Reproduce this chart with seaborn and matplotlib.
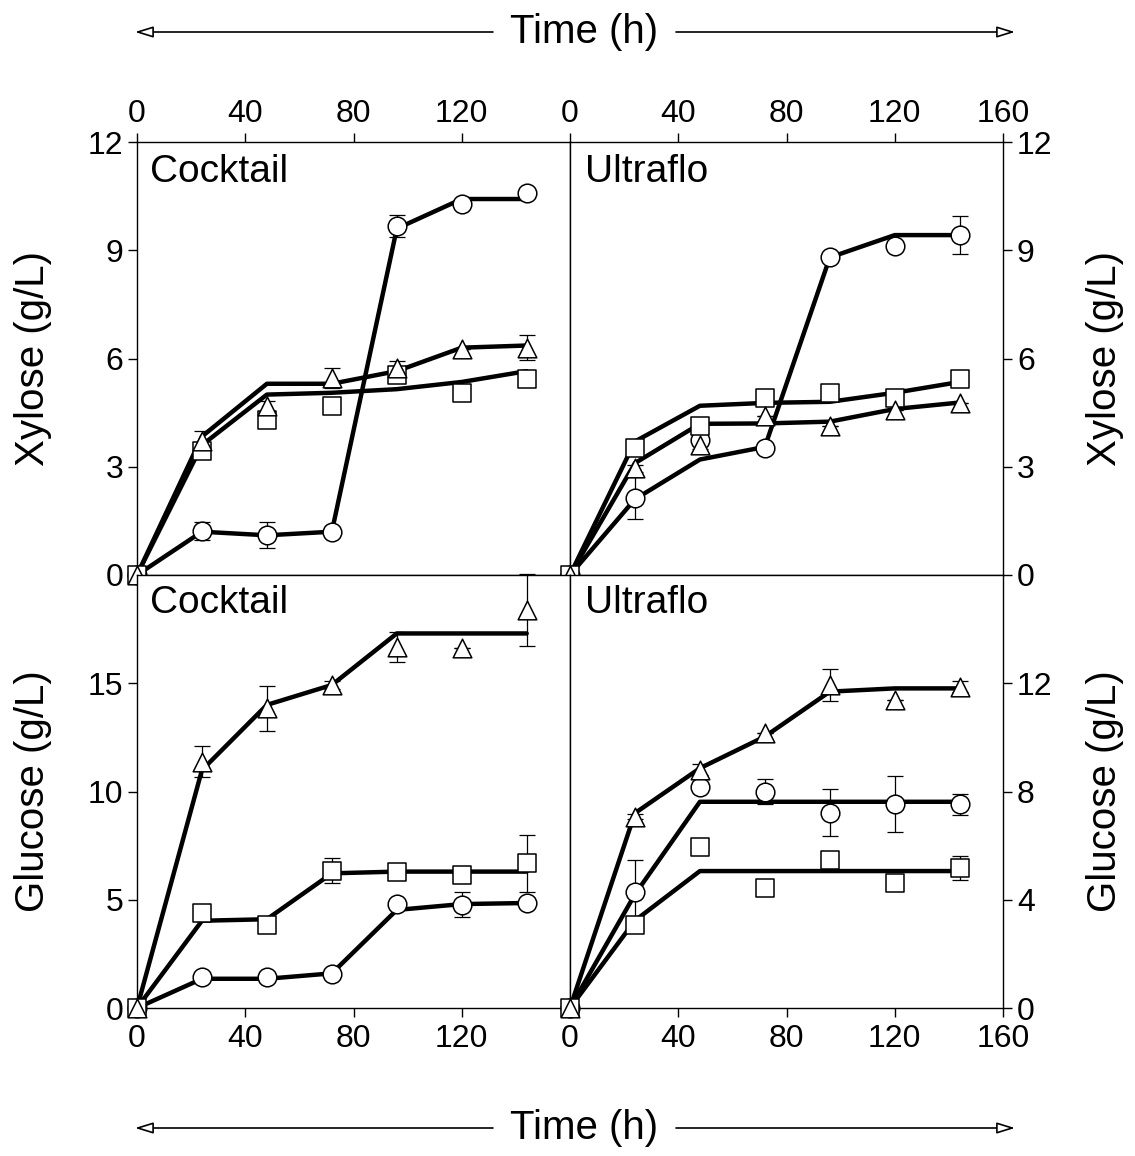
import matplotlib
matplotlib.use("Agg")
import matplotlib.pyplot as plt
import seaborn as sns

sns.set_style("ticks")
plt.rcParams['font.family'] = ['Liberation Sans', 'DejaVu Sans']
plt.rcParams['text.color'] = 'black'
plt.rcParams['axes.labelcolor'] = 'black'

# sampling times (h)
times = [0, 24, 48, 72, 96, 120, 144]

# --- Xylose, Cocktail (g/L) ---
xc_circ = [0, 1.22, 1.11, 1.2, 9.68, 10.28, 10.6]
xc_circ_err = [0, 0.26, 0.37, 0, 0.3, 0, 0]
xc_circ_fit = [0, 1.2, 1.1, 1.2, 9.6, 10.42, 10.42]
xc_sq = [0, 3.43, 4.3, 4.68, 5.55, 5.05, 5.42]
xc_sq_err = [0, 0.1, 0.15, 0, 0, 0, 0]
xc_sq_fit = [0, 3.6, 5.0, 5.05, 5.15, 5.35, 5.65]
xc_tri = [0, 3.7, 4.67, 5.47, 5.75, 6.25, 6.3]
xc_tri_err = [0, 0.28, 0.15, 0.28, 0.18, 0, 0.35]
xc_tri_fit = [0, 3.84, 5.3, 5.3, 5.65, 6.3, 6.36]

# --- Xylose, Ultraflo (g/L) ---
xu_circ = [0, 2.13, 3.75, 3.52, 8.8, 9.12, 9.42]
xu_circ_err = [0, 0.58, 0.15, 0, 0, 0, 0.53]
xu_circ_fit = [0, 2.1, 3.2, 3.55, 8.8, 9.42, 9.42]
xu_sq = [0, 3.52, 4.14, 4.9, 5.05, 4.9, 5.42]
xu_sq_err = [0, 0, 0, 0, 0, 0, 0]
xu_sq_fit = [0, 3.7, 4.69, 4.77, 4.8, 5.05, 5.35]
xu_tri = [0, 2.96, 3.6, 4.4, 4.12, 4.58, 4.77]
xu_tri_err = [0, 0.1, 0.1, 0, 0, 0, 0]
xu_tri_fit = [0, 3.1, 4.19, 4.2, 4.25, 4.6, 4.78]

# --- Glucose, Cocktail (g/L) ---
gc_circ = [0, 1.42, 1.42, 1.57, 4.79, 4.78, 4.84]
gc_circ_err = [0, 0, 0, 0, 0.15, 0.58, 0]
gc_circ_fit = [0, 1.35, 1.35, 1.6, 4.53, 4.8, 4.85]
gc_sq = [0, 4.37, 3.83, 6.34, 6.3, 6.14, 6.68]
gc_sq_err = [0, 0, 0, 0.58, 0, 0, 1.3]
gc_sq_fit = [0, 4.03, 4.1, 6.22, 6.3, 6.3, 6.3]
gc_tri = [0, 11.38, 13.84, 14.92, 16.69, 16.61, 18.38]
gc_tri_err = [0, 0.72, 1.05, 0.2, 0.7, 0, 1.67]
gc_tri_fit = [0, 10.99, 14.0, 14.92, 17.3, 17.3, 17.3]

# --- Glucose, Ultraflo (g/L) ---
gu_circ = [0, 4.3, 8.16, 8.0, 7.22, 7.53, 7.53]
gu_circ_err = [0, 1.17, 0, 0.47, 0.86, 1.03, 0.38]
gu_circ_fit = [0, 4.2, 7.62, 7.62, 7.62, 7.62, 7.62]
gu_sq = [0, 3.07, 5.96, 4.42, 5.47, 4.63, 5.16]
gu_sq_err = [0, 0, 0, 0, 0, 0, 0.44]
gu_sq_fit = [0, 3.23, 5.06, 5.06, 5.06, 5.06, 5.06]
gu_tri = [0, 7.07, 8.8, 10.15, 11.94, 11.38, 11.87]
gu_tri_err = [0, 0.1, 0.2, 0, 0.6, 0, 0.2]
gu_tri_fit = [0, 7.2, 8.86, 10.03, 11.69, 11.81, 11.81]

panels = [
    # name, pixel position, ymax, yticks, corner, series, ylabel
    ("Cocktail", [137, 142], 12, [0, 3, 6, 9, 12], "tl",
     [(xc_circ, xc_circ_err, xc_circ_fit, "o"), (xc_sq, xc_sq_err, xc_sq_fit, "s"),
      (xc_tri, xc_tri_err, xc_tri_fit, "^")], "Xylose (g/L)"),
    ("Ultraflo", [570, 142], 12, [0, 3, 6, 9, 12], "tr",
     [(xu_circ, xu_circ_err, xu_circ_fit, "o"), (xu_sq, xu_sq_err, xu_sq_fit, "s"),
      (xu_tri, xu_tri_err, xu_tri_fit, "^")], "Xylose (g/L)"),
    ("Cocktail", [137, 575], 20, [0, 5, 10, 15], "bl",
     [(gc_circ, gc_circ_err, gc_circ_fit, "o"), (gc_sq, gc_sq_err, gc_sq_fit, "s"),
      (gc_tri, gc_tri_err, gc_tri_fit, "^")], "Glucose (g/L)"),
    ("Ultraflo", [570, 575], 16, [0, 4, 8, 12], "br",
     [(gu_circ, gu_circ_err, gu_circ_fit, "o"), (gu_sq, gu_sq_err, gu_sq_fit, "s"),
      (gu_tri, gu_tri_err, gu_tri_fit, "^")], "Glucose (g/L)"),
]

W, H = 1135, 1156
fig = plt.figure(figsize=(W / 100, H / 100), dpi=100)
side = 433

for name, (px, py), ymax, yticks, pos, series, ylab in panels:
    ax = fig.add_axes([px / W, 1 - (py + side) / H, side / W, side / H])
    for vals, err, fit, mk in series:
        sns.lineplot(x=times, y=fit, color="black", lw=3.2, ax=ax, zorder=2)
        ax.errorbar(times, vals, yerr=err, fmt="none", ecolor="black",
                    elinewidth=0.9, capsize=5.5, capthick=0.9, zorder=3, clip_on=False)
        sns.scatterplot(x=times, y=vals, marker=mk, s=180 if mk != "s" else 155,
                        facecolor="white", edgecolor="black", linewidth=1.1,
                        ax=ax, zorder=4, clip_on=False)
    ax.set_xlim(0, 160)
    ax.set_ylim(0, ymax)
    ax.set_yticks(yticks)
    if pos[1] == "l":
        ax.set_xticks([0, 40, 80, 120])
    else:
        ax.set_xticks([0, 40, 80, 120, 160])
    ax.tick_params(direction="out", length=6.5, width=1, labelsize=23,
                   colors="black")
    ax.tick_params(axis="y", pad=3.5)
    if pos[0] == "t":
        ax.tick_params(axis="x", top=True, bottom=False, labeltop=True,
                       labelbottom=False, pad=3)
    else:
        ax.tick_params(axis="x", top=False, bottom=True, labeltop=False,
                       labelbottom=True, pad=5)
    if pos[1] == "r":
        ax.tick_params(axis="y", left=False, right=True, labelleft=False, labelright=True)
        ax.yaxis.set_label_position("right")
        ax.set_ylabel(ylab, fontsize=29, rotation=90)
        ax.yaxis.set_label_coords(1.192, 0.5)
    else:
        ax.tick_params(axis="y", left=True, right=False, labelleft=True, labelright=False)
        ax.set_ylabel(ylab, fontsize=29)
        ax.yaxis.set_label_coords(-0.196, 0.5)
    for sp in ax.spines.values():
        sp.set_visible(True)
        sp.set_linewidth(1)
        sp.set_color("black")
    ax.set_xlabel("")
    ty = 0.93 if pos[0] == "t" else 0.935
    ax.text(0.03 if pos[1] == "l" else 0.035, ty, name, transform=ax.transAxes,
            fontsize=28, ha="left", va="center")

# "Time (h)" banners with open-headed arrows
for ypx in (32, 1128):
    yf = 1 - ypx / H
    fig.text(584.5 / W, yf, "Time (h)", fontsize=29, ha="center", va="center")
    for x0, x1 in ((493, 135), (676, 1015)):
        fig.add_artist(matplotlib.patches.FancyArrowPatch(
            (x0 / W, yf), (x1 / W, yf), transform=fig.transFigure,
            arrowstyle="-|>,head_length=0.55,head_width=0.17", mutation_scale=20,
            fc="white", ec="black", lw=1.2, shrinkA=0, shrinkB=0))

fig.savefig("out.png", dpi=100)
